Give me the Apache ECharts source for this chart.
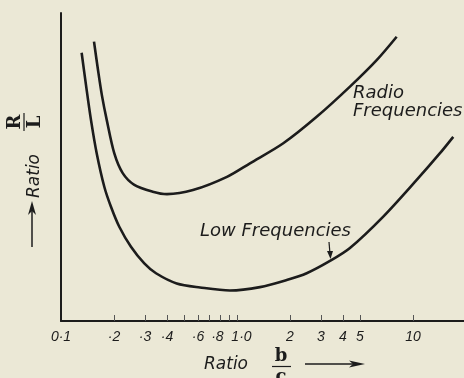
<!DOCTYPE html>
<html>
<head>
<meta charset="utf-8">
<script src="https://cdn.jsdelivr.net/npm/echarts@6/dist/echarts.min.js"></script>
<style>
html,body{margin:0;padding:0;background:#ebe8d6;}
#chart{width:464px;height:378px;}
</style>
</head>
<body>
<div id="chart"></div>
<script>
// Ratio b/c (log axis) vs relative R/L (arbitrary units, 0-100)
const radioX = [0.154, 0.1623, 0.171, 0.1819, 0.2009, 0.2242, 0.261, 0.332, 0.400, 0.562, 0.877, 1.185, 1.833, 2.837, 4.385, 6.22, 8.08];
const radioY = [90.7, 81.5, 73.1, 65.3, 54.4, 48.0, 44.2, 42.0, 41.2, 42.5, 46.8, 51.2, 57.7, 66.3, 76.1, 84.7, 92.3];
const lowX = [0.131, 0.1387, 0.148, 0.1596, 0.1762, 0.1923, 0.2144, 0.2498, 0.2974, 0.3466, 0.4543, 0.6166, 0.912, 1.351, 1.917, 2.489, 3.377, 4.385, 6.78, 10.5, 14.2, 16.94];
const lowY = [87.1, 76.6, 65.3, 54.4, 43.6, 37.1, 30.6, 24.1, 18.7, 15.5, 12.2, 10.9, 9.9, 11.0, 13.3, 15.5, 19.5, 23.7, 33.9, 45.8, 54.4, 59.8];
const tickValues = [0.2, 0.3, 0.4, 0.5, 0.6, 0.7, 0.8, 0.9, 1, 2, 3, 4, 5, 10];
const labelValues = [0.1, 0.2, 0.3, 0.4, 0.6, 0.8, 1, 2, 3, 4, 5, 10];
const labelTexts = ['0·1', '·2', '·3', '·4', '·6', '·8', '1·0', '2', '3', '4', '5', '10'];

const ink = '#1c1c1c';
const font = '"DejaVu Sans", sans-serif';
const labelFont = '"Liberation Sans", Arial, sans-serif';
const serif = '"DejaVu Serif", "Liberation Serif", serif';

function pairs(xs, ys) { return xs.map((x, i) => [x, ys[i]]); }
function labelFor(v) {
  for (let i = 0; i < labelValues.length; i++) {
    if (Math.abs(labelValues[i] - v) < 1e-6 * Math.max(1, v)) {
      const t = labelTexts[i];
      if (t === '1·0') return '{r|' + t + '}';
      if (t === '·8') return '{l|' + t + '}';
      return t;
    }
  }
  return '';
}
const lblStyle = { fontFamily: labelFont, fontStyle: 'italic', fontSize: 14, color: ink };

const chart = echarts.init(document.getElementById('chart'));
chart.setOption({
  backgroundColor: '#ebe8d6',
  animation: false,
  grid: { left: 61, top: 13, right: 0, bottom: 57 },
  xAxis: {
    type: 'log',
    logBase: 10,
    min: 0.1,
    max: 19.5,
    axisLine: { show: true, lineStyle: { color: ink, width: 2 } },
    axisTick: { show: true, inside: true, length: 6, customValues: tickValues, lineStyle: { color: '#555', width: 1 } },
    axisLabel: Object.assign({
      show: true, customValues: labelValues, margin: 9,
      formatter: function (v) { return labelFor(v); },
      rich: {
        r: Object.assign({ padding: [0, 0, 0, 9] }, lblStyle),
        l: Object.assign({ padding: [0, 5, 0, 0] }, lblStyle)
      }
    }, lblStyle),
    splitLine: { show: false },
    minorTick: { show: false },
    minorSplitLine: { show: false }
  },
  yAxis: {
    type: 'value',
    min: 0,
    max: 100,
    axisLine: { show: true, lineStyle: { color: ink, width: 2 } },
    axisTick: { show: false },
    axisLabel: { show: false },
    splitLine: { show: false }
  },
  series: [
    { name: 'Radio Frequencies', type: 'line', smooth: 0.3, showSymbol: false,
      data: pairs(radioX, radioY), lineStyle: { color: ink, width: 2.6 } },
    { name: 'Low Frequencies', type: 'line', smooth: 0.3, showSymbol: false,
      data: pairs(lowX, lowY), lineStyle: { color: ink, width: 2.6 } }
  ],
  graphic: [
    { type: 'text', left: 353, top: 84,
      style: { text: 'Radio\nFrequencies', fill: ink, font: 'italic 18px ' + font, lineHeight: 18 } },
    { type: 'text', left: 200, top: 222,
      style: { text: 'Low Frequencies', fill: ink, font: 'italic 18px ' + font } },
    { type: 'line', shape: { x1: 329, y1: 242, x2: 330, y2: 254 }, style: { stroke: ink, lineWidth: 1.2 } },
    { type: 'polygon', shape: { points: [[327, 251], [330.5, 259], [333, 251]] }, style: { fill: ink } },
    // x axis name
    { type: 'text', x: 226, y: 365,
      style: { text: 'Ratio', fill: ink, font: 'italic 17px ' + font, align: 'center', verticalAlign: 'middle' } },
    { type: 'text', x: 281, y: 356,
      style: { text: 'b', fill: ink, font: 'bold 18px ' + serif, align: 'center', verticalAlign: 'middle' } },
    { type: 'line', shape: { x1: 272, y1: 366.5, x2: 291, y2: 366.5 }, style: { stroke: ink, lineWidth: 1.2 } },
    { type: 'text', x: 281, y: 377,
      style: { text: 'c', fill: ink, font: 'bold 18px ' + serif, align: 'center', verticalAlign: 'middle' } },
    { type: 'line', shape: { x1: 305, y1: 364, x2: 356, y2: 364 }, style: { stroke: ink, lineWidth: 1.3 } },
    { type: 'polygon', shape: { points: [[349, 360.5], [365, 364], [349, 367.5], [353, 364]] }, style: { fill: ink } },
    // y axis name
    { type: 'line', shape: { x1: 32, y1: 247, x2: 32, y2: 210 }, style: { stroke: ink, lineWidth: 1.5 } },
    { type: 'polygon', shape: { points: [[28, 215], [32, 201], [36, 215], [32, 211]] }, style: { fill: ink } },
    { type: 'text', x: 35, y: 176, rotation: Math.PI / 2,
      style: { text: 'Ratio', fill: ink, font: 'italic 17px ' + font, align: 'center', verticalAlign: 'middle' } },
    { type: 'text', x: 15, y: 122, rotation: Math.PI / 2,
      style: { text: 'R', fill: ink, font: 'bold 18px ' + serif, align: 'center', verticalAlign: 'middle' } },
    { type: 'line', shape: { x1: 24, y1: 113, x2: 24, y2: 131 }, style: { stroke: ink, lineWidth: 1.2 } },
    { type: 'text', x: 35, y: 122, rotation: Math.PI / 2,
      style: { text: 'L', fill: ink, font: 'bold 18px ' + serif, align: 'center', verticalAlign: 'middle' } }
  ]
});
</script>
</body>
</html>
